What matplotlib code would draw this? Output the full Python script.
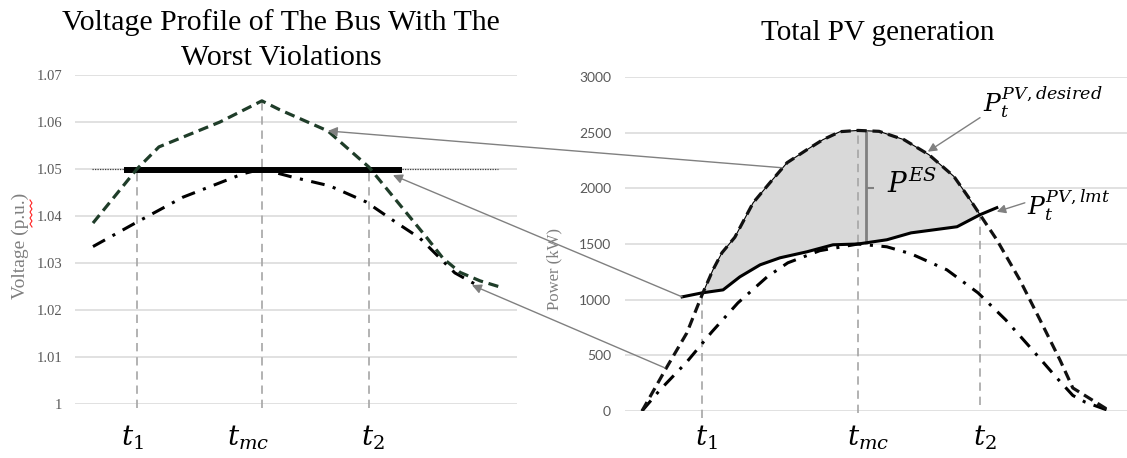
import numpy as np
import matplotlib.pyplot as plt
from matplotlib.patches import ConnectionPatch
from matplotlib.lines import Line2D
from matplotlib.transforms import blended_transform_factory

plt.rcParams['mathtext.fontset'] = 'dejavuserif'

# ---- voltage profile of the worst bus (hour, p.u.)
v_hours = [7.0, 8.08, 8.62, 10.12, 11.15, 11.59, 12.77, 13.78, 15.21, 15.60, 16.02, 16.51, 17.0]
v_base = [1.0385, 1.0500, 1.0547, 1.0600, 1.0645, 1.0626, 1.0581, 1.0504, 1.0353, 1.0310, 1.0280, 1.0262, 1.0249]
vc_hours = [7.0, 8.08, 9.21, 10.69, 11.15, 11.89, 12.82, 13.71, 14.47, 15.03, 15.89, 16.39]
v_ctrl = [1.0335, 1.0387, 1.0440, 1.0490, 1.0500, 1.0483, 1.0464, 1.0430, 1.0385, 1.0353, 1.0279, 1.0255]
v_limit = 1.05
limit_span = [6.98, 16.95]
flat_span = [7.76, 14.59]
v_marks = [8.08, 11.15, 13.78]
v_ticks = [1.0, 1.01, 1.02, 1.03, 1.04, 1.05, 1.06, 1.07]
v_ticklabels = ['1', '1.01', '1.02', '1.03', '1.04', '1.05', '1.06', '1.07']

# ---- total PV generation (hour, kW)
p_hours = [6.0, 6.64, 7.15, 7.54, 7.82, 8.05, 8.38, 8.85, 9.28, 9.72, 10.23, 10.64, 11.08,
           11.54, 12.08, 12.72, 13.36, 14.0, 14.36, 14.67, 15.10, 15.69, 16.21, 16.72, 17.05, 18.0]
p_desired = [0, 396, 701, 1043, 1268, 1421, 1560, 1870, 2050, 2230, 2347, 2437, 2509,
             2520, 2512, 2437, 2302, 2107, 1927, 1763, 1538, 1178, 818, 459, 207, 0]
pc_hours = [6.0, 6.46, 7.15, 7.79, 8.46, 9.21, 9.74, 10.56, 11.54, 12.28, 12.90, 13.82,
            14.62, 15.33, 15.97, 16.64, 17.05, 17.36, 18.0]
p_ctrl = [0, 189, 441, 710, 971, 1205, 1331, 1440, 1500, 1475, 1412, 1268,
          1061, 818, 566, 297, 140, 81, 0]
lmt_hours = [7.03, 7.54, 8.08, 8.51, 9.03, 9.54, 10.23, 10.90, 11.54, 12.28, 12.90, 14.08, 14.67, 15.10]
p_lmt = [1025, 1061, 1088, 1205, 1313, 1376, 1430, 1493, 1500, 1538, 1600, 1655, 1763, 1826]
p_marks = [7.54, 11.54, 14.67]
p_es_hour = 11.74
p_ticks = [0, 500, 1000, 1500, 2000, 2500, 3000]

mark_names = [r'$t_1$', r'$t_{mc}$', r'$t_2$']

W, H = 1127, 458
fig = plt.figure(figsize=(W / 100, H / 100), dpi=100)
axL = fig.add_axes([75 / W, 54 / H, 442 / W, 329 / H])
axR = fig.add_axes([625 / W, 47 / H, 502 / W, 334 / H])

for ax in (axL, axR):
    for s in ax.spines.values():
        s.set_visible(False)
    ax.set_xticks([])
    ax.tick_params(axis='y', length=0, colors='#595959')
    ax.grid(axis='y', color='#d9d9d9', lw=1.1)
    ax.set_axisbelow(True)

# ---- left panel
axL.set_xlim(6.558, 17.418)
axL.set_ylim(1.0, 1.07)
axL.set_yticks(v_ticks)
axL.set_yticklabels(v_ticklabels, family='Liberation Serif', fontsize=10.5)
axL.tick_params(axis='y', pad=9)

axL.hlines(v_limit, *limit_span, color='#404040', lw=0.9, ls=(0, (1, 1)))
for h in v_marks:
    top = v_base[v_hours.index(h)]
    axL.plot([h, h], [0.99915, top], color='#a6a6a6', lw=1.2, ls=(0, (5, 3.5)), clip_on=False)
axL.hlines(v_limit - 0.0003, *flat_span, color='black', lw=4.3, zorder=4)
axL.plot(vc_hours, v_ctrl, color='black', lw=2.2, ls=(0, (4.5, 2.8, 1, 2.8)), zorder=3)
axL.plot(v_hours, v_base, color='#1f3d29', lw=2.3, ls=(0, (3.2, 1.8)), zorder=5)

# ---- right panel
axR.set_xlim(5.564, 18.44)
axR.set_ylim(0, 3000)
axR.set_yticks(p_ticks)
axR.set_yticklabels([str(t) for t in p_ticks], family='Lato', fontsize=10)
axR.tick_params(axis='y', pad=10)

lo, hi = p_marks[0], p_marks[-1]
up = [(h, p) for h, p in zip(p_hours, p_desired) if lo <= h <= hi]
dn = [(h, p) for h, p in zip(lmt_hours, p_lmt) if lo <= h <= hi][::-1]
poly = np.array(up + dn)
axR.fill(poly[:, 0], poly[:, 1], facecolor='#d9d9d9', edgecolor='black', lw=0.8, zorder=1)

bottoms = [-60, -20, 50]
for h, b in zip(p_marks, bottoms):
    top = p_desired[p_hours.index(h)]
    axR.plot([h, h], [b, top], color='#a6a6a6', lw=1.2, ls=(0, (5, 3.5)), clip_on=False, zorder=2)

es_lo = p_lmt[lmt_hours.index(p_marks[1])]
es_hi = p_desired[p_hours.index(p_marks[1])]
axR.vlines(p_es_hour, es_lo, es_hi, color='#808080', lw=2, zorder=3)
axR.hlines(2000, p_es_hour, p_es_hour + 0.22, color='#808080', lw=1.5, zorder=3)

axR.plot(pc_hours, p_ctrl, color='black', lw=2.2, ls=(0, (4.5, 2.8, 1, 2.8)), zorder=3)
axR.plot(lmt_hours, p_lmt, color='black', lw=2.2, zorder=4)
axR.plot(p_hours, p_desired, color='#111111', lw=2.3, ls=(0, (3.2, 1.8)), zorder=5)

axR.text(12.28, 1960, r'$P^{ES}$', fontsize=20, ha='left', va='baseline')
axR.text(14.74, 2689, r'$P_t^{PV,desired}$', fontsize=18, ha='left', va='baseline')
axR.text(15.87, 1763, r'$P_t^{PV,lmt}$', fontsize=18, ha='left', va='baseline', clip_on=False)
arr = dict(arrowstyle='-|>', color='#808080', lw=1, mutation_scale=13, shrinkA=0, shrinkB=0)
axR.annotate('', xy=(13.33, 2329), xytext=(14.67, 2635), arrowprops=arr, zorder=6)
axR.annotate('', xy=(15.10, 1790), xytext=(15.82, 1870), arrowprops=arr, zorder=6)

# arrows from the PV chart back to the voltage chart
links = [((9.59, 2185), (12.77, 1.0581)),
         ((7.03, 1025), (14.37, 1.0487)),
         ((6.59, 387), (16.31, 1.0253))]
for a, b in links:
    con = ConnectionPatch(xyA=a, coordsA=axR.transData, xyB=b, coordsB=axL.transData,
                          arrowstyle='-|>', color='#808080', lw=1, mutation_scale=14,
                          shrinkA=0, shrinkB=0, zorder=6)
    fig.add_artist(con)

# time markers under both panels
lab_L = [7.96, 10.81, 13.88]
lab_R = [7.64, 11.79, 14.79]
for ax, xs in ((axL, lab_L), (axR, lab_R)):
    tr = blended_transform_factory(ax.transData, fig.transFigure)
    for x, s in zip(xs, mark_names):
        ax.text(x, 0.028, s, transform=tr, fontsize=20, ha='center', va='baseline')

# titles and axis labels
serif = 'Liberation Serif'
fig.text(281 / W, 1 - 30 / H, 'Voltage Profile of The Bus With The', family=serif,
         fontsize=21.5, ha='center', va='baseline')
fig.text(281 / W, 1 - 65 / H, 'Worst Violations', family=serif, fontsize=21.5,
         ha='center', va='baseline')
fig.text(878 / W, 1 - 40 / H, 'Total PV generation', family=serif, fontsize=21,
         ha='center', va='baseline')
fig.text(20 / W, 1 - 246 / H, 'Voltage (p.u.)', family=serif, fontsize=14, color='#7f7f7f',
         rotation=90, ha='center', va='center')
fig.text(554 / W, 1 - 269 / H, 'Power (kW)', family=serif, fontsize=12, color='#7f7f7f',
         rotation=90, ha='center', va='center')

# spell-check squiggle beside the unit
zy = np.arange(200, 228, 3)
zx = 30 + 2 * (np.arange(len(zy)) % 2)
fig.add_artist(Line2D(zx / W, 1 - zy / H, color='#ff2020', lw=0.8))

fig.savefig('out.png', dpi=100)
